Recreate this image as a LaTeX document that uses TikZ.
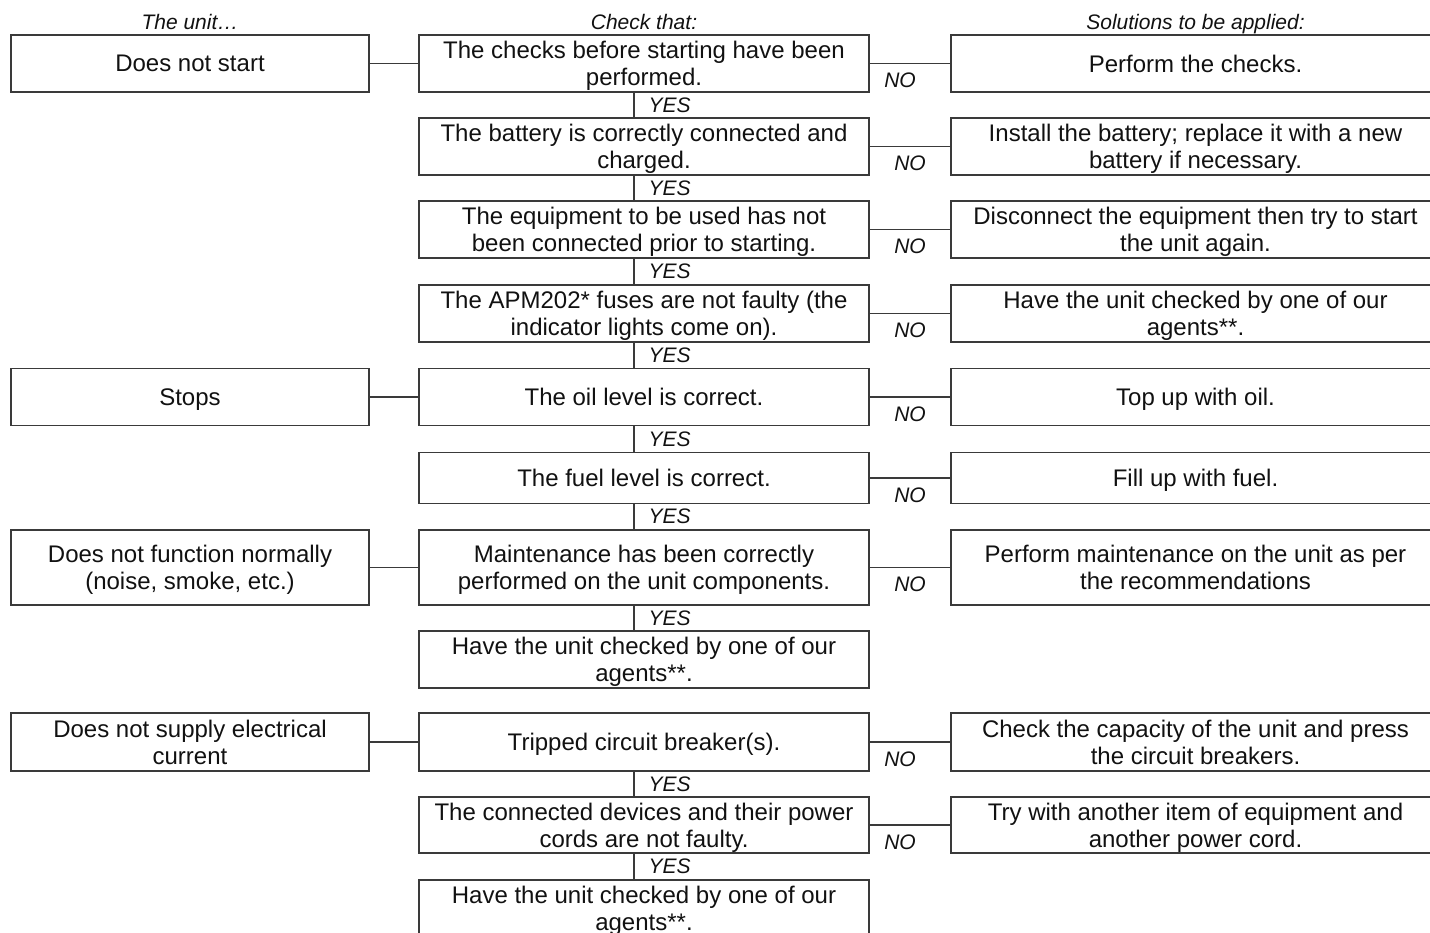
\documentclass[tikz,border=0pt]{standalone}
\usepackage{fontspec}
\setmainfont{Liberation Sans}
\usepackage{tikz}
\usepackage{xcolor}
\usetikzlibrary{positioning,calc}
\definecolor{ink}{HTML}{111111}
\definecolor{rule}{HTML}{3A3A3A}

\begin{document}
\begin{tikzpicture}[x=1pt,y=-1pt,
  box/.style={draw=rule,line width=1.2pt,align=center,inner sep=0pt,text depth=0pt,
              text=ink,font=\fontsize{24}{27}\selectfont},
  unitbox/.style={box,minimum width=358pt,minimum height=57pt},
  chkbox/.style={box,minimum width=450pt,minimum height=57pt},
  solbox/.style={box,minimum width=489pt,minimum height=57pt},
  lbl/.style={text=ink,inner sep=0pt,font=\fontsize{21}{23}\selectfont\itshape},
  link/.style={draw=rule,line width=1.2pt}]
  \useasboundingbox (0,0) rectangle (1430,933);

  % the unit ...
  \node[unitbox] (uStart) at (190,63.5)  {Does not start};
  \node[unitbox] (uStop)  at (190,397)   {Stops};
  \node[unitbox,minimum height=75pt] (uNoise) at (190,567.5)
       {Does not function normally\\(noise, smoke, etc.)};
  \node[unitbox,minimum height=58pt] (uPower) at (190,742)
       {Does not supply electrical\\current};

  % check that
  \node[chkbox] (cA) at (644,63.5)  {The checks before starting have been\\performed.};
  \node[chkbox] (cB) at (644,146.5) {The battery is correctly connected and\\charged.};
  \node[chkbox] (cC) at (644,229.5) {The equipment to be used has not\\been connected prior to starting.};
  \node[chkbox] (cD) at (644,313.5) {The APM202* fuses are not faulty (the\\indicator lights come on).};
  \node[chkbox] (cE) at (644,397)   {The oil level is correct.};
  \node[chkbox,minimum height=51pt] (cF) at (644,478) {The fuel level is correct.};
  \node[chkbox,minimum height=75pt] (cG) at (644,567.5)
       {Maintenance has been correctly\\performed on the unit components.};
  \node[chkbox] (cH) at (644,659.5) {Have the unit checked by one of our\\agents**.};
  \node[chkbox,minimum height=58pt] (cI) at (644,742) {Tripped circuit breaker(s).};
  \node[chkbox,minimum height=56pt] (cJ) at (644,825)
       {The connected devices and their power\\cords are not faulty.};
  \node[chkbox] (cK) at (644,908.5) {Have the unit checked by one of our\\agents**.};

  % solutions
  \node[solbox] (sA) at (1195.5,63.5)  {Perform the checks.};
  \node[solbox] (sB) at (1195.5,146.5) {Install the battery; replace it with a new\\battery if necessary.};
  \node[solbox] (sC) at (1195.5,229.5) {Disconnect the equipment then try to start\\the unit again.};
  \node[solbox] (sD) at (1195.5,313.5) {Have the unit checked by one of our\\agents**.};
  \node[solbox] (sE) at (1195.5,397)   {Top up with oil.};
  \node[solbox,minimum height=51pt] (sF) at (1195.5,478) {Fill up with fuel.};
  \node[solbox,minimum height=75pt] (sG) at (1195.5,567.5)
       {Perform maintenance on the unit as per\\the recommendations};
  \node[solbox,minimum height=58pt] (sI) at (1195.5,742)
       {Check the capacity of the unit and press\\the circuit breakers.};
  \node[solbox,minimum height=56pt] (sJ) at (1195.5,825)
       {Try with another item of equipment and\\another power cord.};

  % column heads
  \node[lbl,anchor=base] (hUnit) at ([yshift=5pt]uStart.north) {The unit…};
  \node[lbl,anchor=base] (hChk)  at ([yshift=5pt]cA.north) {Check that:};
  \node[lbl,anchor=base] (hSol)  at ([yshift=5pt]sA.north) {Solutions to be applied:};

  % unit -> first check
  \draw[link] (uStart) -- (cA);
  \draw[link] (uStop)  -- (cE);
  \draw[link] (uNoise) -- (cG);
  \draw[link] (uPower) -- (cI);

  % YES links
  \foreach \a/\b in {cA/cB,cB/cC,cC/cD,cD/cE,cE/cF,cF/cG,cG/cH,cI/cJ,cJ/cK}
    \draw[link] ([xshift=-10pt]\a.south) --
      node[lbl,midway,right=14pt] {YES} ([xshift=-10pt]\b.north);

  % NO links
  \foreach \a/\b/\s in {cA/sA/-10,cB/sB/0,cC/sC/0,cD/sD/0,cE/sE/0,cF/sF/0,
                        cG/sG/0,cI/sI/-10,cJ/sJ/-10}
    \draw[link] (\a.east) -- node[lbl,midway,below=9pt,xshift=\s pt] {NO} (\b.west);
\end{tikzpicture}
\end{document}
